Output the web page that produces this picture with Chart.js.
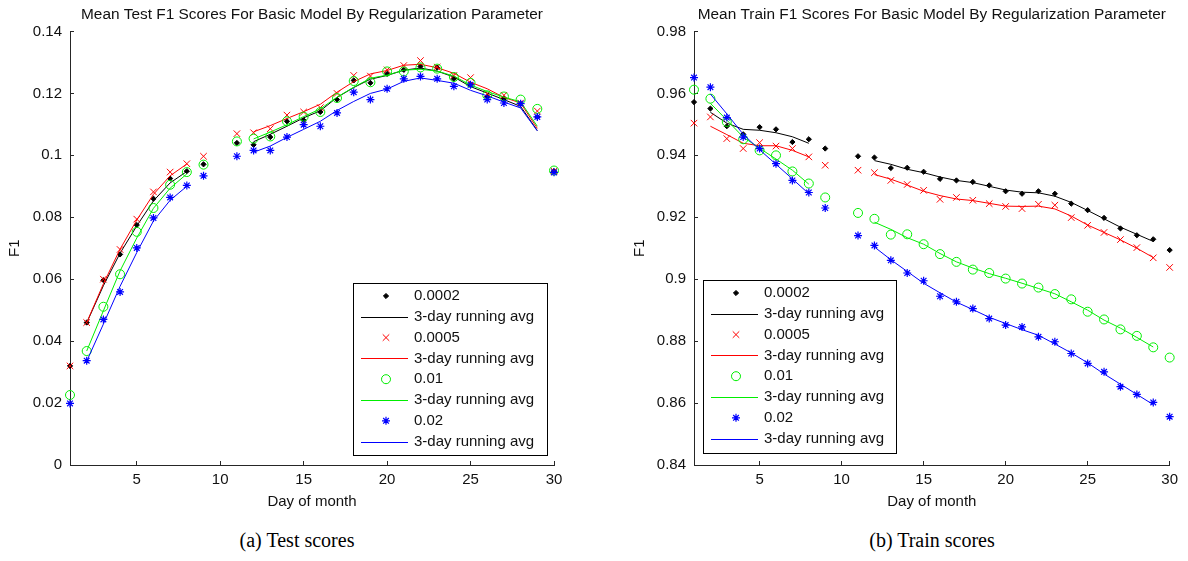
<!DOCTYPE html>
<html>
<head>
<meta charset="utf-8">
<script src="https://cdn.jsdelivr.net/npm/chart.js"></script>
<style>
  body { margin: 0; background: #fff; width: 1188px; height: 561px; overflow: hidden; position: relative; }
  .plot { position: absolute; top: 0; width: 594px; height: 520px; }
  #leftBox { left: 0; }
  #rightBox { left: 594px; }
  .cap { position: absolute; top: 528px; line-height: 24px; font-family: "Liberation Serif", "DejaVu Serif", serif; font-size: 20px; color: #000; transform: translateX(-50%); white-space: nowrap; }
</style>
</head>
<body>
<div class="plot" id="leftBox"><canvas id="testChart"></canvas></div>
<div class="plot" id="rightBox"><canvas id="trainChart"></canvas></div>
<div class="cap" style="left:297px">(a) Test scores</div>
<div class="cap" style="left:932px">(b) Train scores</div>
<script>
// days of the month (no run on day 10)
const days = [1,2,3,4,5,6,7,8,9,10,11,12,13,14,15,16,17,18,19,20,21,22,23,24,25,26,27,28,29,30];
const dayTicks = [5,10,15,20,25,30];
const paramLabels = ['0.0002','0.0005','0.01','0.02'];
const avgLabel = '3-day running avg';

// test F1, per regularization parameter
const testP0002 = [0.0320,0.0460,0.0597,0.0680,0.0775,0.0860,0.0925,0.0949,0.0971,null,0.1040,0.1034,0.1059,0.1110,0.1113,0.1140,0.1180,0.1242,0.1234,0.1263,0.1276,0.1287,0.1283,0.1247,0.1229,0.1190,0.1183,0.1167,0.1124,0.0949];
const testAvg0002 = [null,0.0459,0.0579,0.0684,0.0772,0.0853,0.0911,0.0948,null,null,null,0.1044,0.1068,0.1094,0.1121,0.1144,0.1187,0.1219,0.1246,0.1258,0.1275,0.1282,0.1272,0.1253,0.1222,0.1201,0.1180,0.1158,0.1080,null];
const testP0005 = [0.0320,0.0460,0.0600,0.0696,0.0794,0.0882,0.0946,0.0973,0.0997,null,0.1070,0.1073,0.1086,0.1130,0.1140,0.1154,0.1200,0.1258,0.1256,0.1276,0.1290,0.1306,0.1285,0.1258,0.1251,0.1199,0.1194,0.1169,0.1143,0.0949];
const testAvg0005 = [null,0.0460,0.0585,0.0697,0.0791,0.0874,0.0934,0.0972,null,null,null,0.1076,0.1096,0.1119,0.1141,0.1165,0.1204,0.1238,0.1263,0.1274,0.1291,0.1294,0.1283,0.1265,0.1236,0.1215,0.1187,0.1169,0.1087,null];
const testP001 = [0.0226,0.0368,0.0511,0.0616,0.0753,0.0830,0.0905,0.0946,0.0970,null,0.1045,0.1054,0.1061,0.1110,0.1125,0.1140,0.1185,0.1240,0.1236,0.1271,0.1271,0.1284,0.1280,0.1253,0.1234,0.1194,0.1190,0.1180,0.1150,0.0951];
const testAvg001 = [null,0.0368,0.0498,0.0627,0.0733,0.0829,0.0894,0.0940,null,null,null,0.1053,0.1075,0.1099,0.1125,0.1150,0.1188,0.1220,0.1249,0.1259,0.1275,0.1278,0.1272,0.1256,0.1227,0.1206,0.1188,0.1173,0.1094,null];
const testP002 = [0.0199,0.0337,0.0470,0.0559,0.0701,0.0798,0.0864,0.0903,0.0934,null,0.0997,0.1016,0.1016,0.1059,0.1099,0.1094,0.1137,0.1204,0.1180,0.1215,0.1247,0.1255,0.1247,0.1223,0.1228,0.1180,0.1169,0.1167,0.1124,0.0945];
const testAvg002 = [null,0.0335,0.0455,0.0577,0.0686,0.0788,0.0855,0.0900,null,null,null,0.1010,0.1030,0.1058,0.1084,0.1110,0.1145,0.1174,0.1200,0.1214,0.1239,0.1250,0.1242,0.1233,0.1210,0.1192,0.1172,0.1153,0.1079,null];
const testTicks = [0,0.02,0.04,0.06,0.08,0.1,0.12,0.14];

// train F1
const trainP0002 = [0.9572,0.9551,0.9494,0.9468,0.9491,0.9484,0.9443,0.9452,0.9422,null,0.9397,0.9393,0.9359,0.9360,0.9347,0.9324,0.9319,0.9314,0.9303,0.9284,0.9276,0.9284,0.9276,0.9244,0.9223,0.9198,0.9164,0.9142,0.9129,0.9094];
const trainAvg0002 = [null,0.9539,0.9504,0.9484,0.9481,0.9473,0.9460,0.9439,null,null,null,0.9383,0.9371,0.9355,0.9344,0.9330,0.9319,0.9312,0.9300,0.9288,0.9281,0.9279,0.9268,0.9248,0.9222,0.9195,0.9168,0.9145,0.9122,null];
const trainP0005 = [0.9504,0.9524,0.9454,0.9422,0.9441,0.9430,0.9422,0.9395,0.9368,null,0.9352,0.9344,0.9319,0.9306,0.9287,0.9258,0.9264,0.9255,0.9244,0.9235,0.9228,0.9242,0.9239,0.9199,0.9174,0.9151,0.9128,0.9102,0.9069,0.9038];
const trainAvg0005 = [null,0.9494,0.9467,0.9439,0.9431,0.9431,0.9416,0.9395,null,null,null,0.9338,0.9323,0.9304,0.9284,0.9270,0.9259,0.9254,0.9245,0.9236,0.9235,0.9236,0.9227,0.9204,0.9175,0.9151,0.9127,0.9100,0.9070,null];
const trainP001 = [0.9612,0.9583,0.9508,0.9452,0.9416,0.9400,0.9348,0.9309,0.9264,null,0.9214,0.9195,0.9144,0.9145,0.9113,0.9081,0.9056,0.9031,0.9020,0.9002,0.8986,0.8973,0.8952,0.8935,0.8895,0.8870,0.8838,0.8817,0.8780,0.8747];
const trainAvg001 = [null,0.9568,0.9514,0.9459,0.9423,0.9388,0.9352,0.9307,null,null,null,0.9184,0.9161,0.9134,0.9113,0.9083,0.9056,0.9036,0.9018,0.9003,0.8987,0.8970,0.8953,0.8927,0.8900,0.8868,0.8842,0.8812,0.8781,null];
const trainP002 = [0.9651,0.9620,0.9522,0.9459,0.9422,0.9373,0.9319,0.9280,0.9230,null,0.9141,0.9109,0.9061,0.9020,0.8995,0.8945,0.8927,0.8905,0.8873,0.8852,0.8846,0.8814,0.8798,0.8760,0.8728,0.8701,0.8653,0.8628,0.8602,0.8556];
const trainAvg002 = [null,0.9598,0.9534,0.9468,0.9418,0.9371,0.9324,0.9276,null,null,null,0.9104,0.9063,0.9025,0.8987,0.8956,0.8926,0.8902,0.8877,0.8857,0.8837,0.8819,0.8791,0.8762,0.8730,0.8694,0.8661,0.8628,0.8595,null];
const trainTicks = [0.84,0.86,0.88,0.9,0.92,0.94,0.96,0.98];

const fontFam = '"Liberation Sans", Arial, sans-serif';
const textColor = '#111';
const axisColor = '#262626';

// marker look for each parameter (matlab k. r x g o b*)
const markers = [
  { color: '#000000', style: 'rectRot', radius: 2.6, fill: '#000000', width: 1 },
  { color: '#ff0000', style: 'crossRot', radius: 4.6, fill: 'rgba(0,0,0,0)', width: 1 },
  { color: '#00ee00', style: 'circle', radius: 4.5, fill: 'rgba(0,0,0,0)', width: 1 },
  { color: '#0000ff', style: 'star', radius: 4, fill: 'rgba(0,0,0,0)', width: 1.2 }
];

function toPoints(vals) {
  return days.map((d, i) => ({ x: d, y: vals[i] }));
}

function buildDatasets(pointSeries, avgSeries) {
  const out = [];
  pointSeries.forEach((vals, k) => {
    const m = markers[k];
    out.push({
      label: paramLabels[k],
      data: toPoints(vals),
      showLine: false,
      pointStyle: m.style,
      pointRadius: m.radius,
      pointBackgroundColor: m.fill,
      pointBorderColor: m.color,
      pointBorderWidth: m.width,
      borderColor: m.color,
      backgroundColor: m.fill,
      clip: false
    });
    out.push({
      label: avgLabel,
      data: toPoints(avgSeries[k]),
      borderColor: m.color,
      borderWidth: 1,
      pointRadius: 0,
      tension: 0,
      spanGaps: false,
      clip: false
    });
  });
  // later series sit on top, like matlab
  out.forEach((ds, i) => { ds.order = out.length - i; });
  return out;
}

const boxLegend = {
  id: 'boxLegend',
  afterDraw(chart, args, opts) {
    const ctx = chart.ctx;
    const b = opts.box;
    ctx.save();
    ctx.fillStyle = '#fff';
    ctx.fillRect(b.x, b.y, b.w, b.h);
    ctx.strokeStyle = '#000';
    ctx.lineWidth = 1;
    ctx.strokeRect(b.x + 0.5, b.y + 0.5, b.w, b.h);
    ctx.font = '15px ' + fontFam;
    ctx.textBaseline = 'middle';
    chart.data.datasets.forEach((ds, i) => {
      const cy = b.y + 13 + i * opts.rowH;
      if (ds.showLine === false) {
        ctx.fillStyle = ds.pointBackgroundColor;
        ctx.strokeStyle = ds.pointBorderColor;
        ctx.lineWidth = ds.pointBorderWidth;
        Chart.helpers.drawPoint(ctx, { pointStyle: ds.pointStyle, radius: ds.pointRadius, borderWidth: ds.pointBorderWidth, rotation: 0 }, b.x + 33, cy);
      } else {
        // sample line for the running average
        ctx.fillStyle = ds.borderColor;
        ctx.fillRect(b.x + 8, Math.round(cy), 47, 1);
      }
      ctx.fillStyle = textColor;
      ctx.fillText(ds.label, b.x + 61, cy);
    });
    ctx.restore();
  }
};

function makeChart(id, title, pointSeries, avgSeries, yTicks, yWidth, yTitlePad, rightPad, legendBox) {
  return new Chart(document.getElementById(id), {
    type: 'line',
    data: { datasets: buildDatasets(pointSeries, avgSeries) },
    plugins: [boxLegend],
    options: {
      responsive: true,
      maintainAspectRatio: false,
      animation: false,
      layout: { padding: { left: 0, right: rightPad, top: 0, bottom: 0 } },
      plugins: {
        legend: { display: false },
        tooltip: { enabled: false },
        title: {
          display: true,
          text: title,
          fullSize: false,
          color: textColor,
          font: { family: fontFam, size: 15.4, weight: 'normal' },
          padding: { top: 6, bottom: 7 }
        },
        boxLegend: { box: legendBox, rowH: 20.8 }
      },
      scales: {
        x: {
          type: 'linear',
          min: 1,
          max: 30,
          afterBuildTicks: s => { s.ticks = dayTicks.map(v => ({ value: v })); },
          afterFit: s => { s.height = 55; },
          grid: { drawOnChartArea: false, drawTicks: true, tickLength: -4, color: axisColor },
          border: { display: true, color: axisColor, width: 1 },
          ticks: { font: { family: fontFam, size: 15 }, color: textColor, padding: 10, maxRotation: 0, callback: v => String(v) },
          title: { display: true, text: 'Day of month', color: textColor, font: { family: fontFam, size: 15 }, padding: { top: 0, bottom: 9 } }
        },
        y: {
          type: 'linear',
          min: yTicks[0],
          max: yTicks[yTicks.length - 1],
          afterBuildTicks: s => { s.ticks = yTicks.map(v => ({ value: v })); },
          afterFit: s => { s.width = yWidth; },
          grid: { drawOnChartArea: false, drawTicks: true, tickLength: -4, color: axisColor },
          border: { display: true, color: axisColor, width: 1 },
          ticks: { font: { family: fontFam, size: 15 }, color: textColor, padding: 12, callback: v => String(Math.round(v * 100) / 100) },
          title: { display: true, text: 'F1', color: textColor, font: { family: fontFam, size: 15 }, padding: { top: yTitlePad, bottom: 0 } }
        }
      }
    }
  });
}

makeChart('testChart', 'Mean Test F1 Scores For Basic Model By Regularization Parameter',
  [testP0002, testP0005, testP001, testP002],
  [testAvg0002, testAvg0005, testAvg001, testAvg002],
  testTicks, 70, 6, 40, { x: 353, y: 283, w: 194, h: 172 });

makeChart('trainChart', 'Mean Train F1 Scores For Basic Model By Regularization Parameter',
  [trainP0002, trainP0005, trainP001, trainP002],
  [trainAvg0002, trainAvg0005, trainAvg001, trainAvg002],
  trainTicks, 100, 37, 13, { x: 109, y: 280, w: 193, h: 173 });
</script>
</body>
</html>
